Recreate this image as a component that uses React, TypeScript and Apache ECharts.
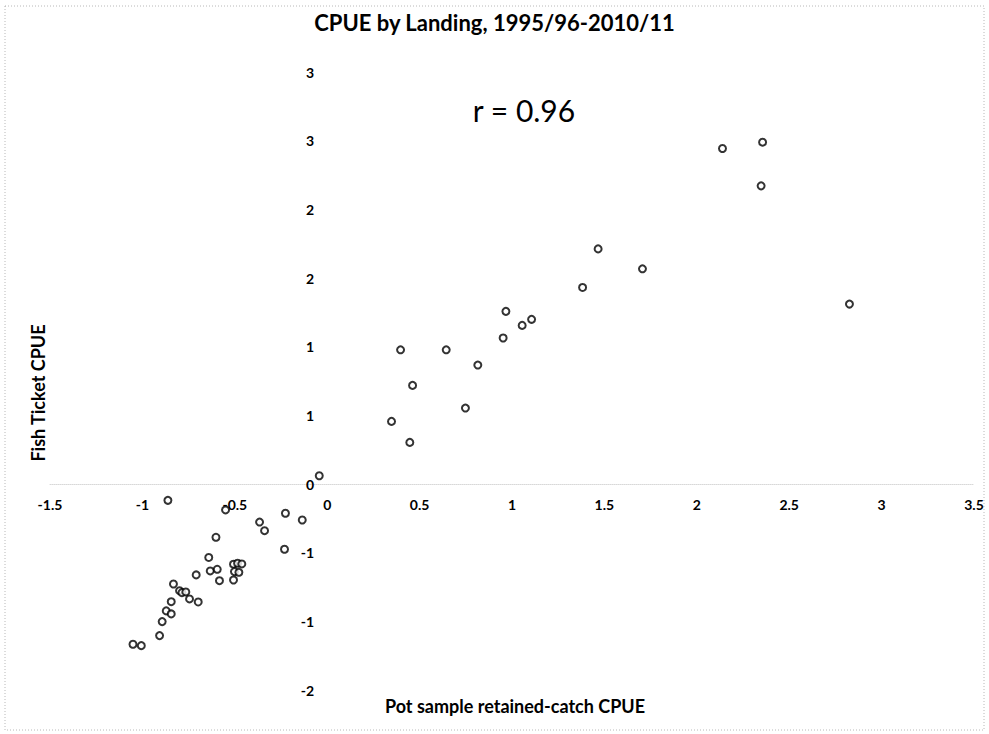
import React, { useEffect, useRef } from "react";
import * as echarts from "echarts";

// standardized CPUE per landing: pot sample (x) vs fish ticket (y)
const potSampleCpue = [
  -0.043, -0.862, -0.55, -0.226, -0.135, -0.366, -0.339, -0.602, -0.231, -0.641,
  -0.633, -0.595, -0.709, -0.583, -0.507, -0.485, -0.462, -0.502, -0.478, -0.507,
  -0.832, -0.799, -0.786, -0.765, -0.745, -0.698, -0.844, -0.871, -0.844, -0.893,
  -0.907, -1.051, -1.006,
  0.348, 0.447, 0.462, 0.397, 0.644, 0.748, 0.815, 0.952, 0.967, 1.055, 1.106,
  1.382, 1.466, 1.706, 2.139, 2.356, 2.348, 2.826,
];
const fishTicketCpue = [
  0.06, -0.119, -0.189, -0.213, -0.262, -0.277, -0.34, -0.388, -0.475, -0.535,
  -0.633, -0.621, -0.662, -0.704, -0.584, -0.577, -0.582, -0.638, -0.643, -0.699,
  -0.728, -0.777, -0.791, -0.786, -0.837, -0.859, -0.857, -0.924, -0.946, -1.002,
  -1.104, -1.167, -1.177,
  0.456, 0.303, 0.718, 0.977, 0.977, 0.553, 0.866, 1.063, 1.257, 1.155, 1.199,
  1.431, 1.712, 1.567, 2.443, 2.489, 2.171, 1.31,
];

// y ticks are shown rounded to whole numbers, as in the original
const yTicks = [-1.5, -1, -0.5, 0, 0.5, 1, 1.5, 2, 2.5, 3];
const yTickLabels = ["-2", "-1", "-1", "0", "1", "1", "2", "2", "3", "3"];

const FONT = "Lato, 'Open Sans', sans-serif";

// plot area in px
const GRID = { left: 50, right: 15, top: 72, bottom: 44 };
const W = 989;
const H = 734;
const X_MIN = -1.5, X_MAX = 3.5, Y_MIN = -1.5, Y_MAX = 3;

const App: React.FC = () => {
  const chartRef = useRef<HTMLDivElement>(null);

  useEffect(() => {
    if (!chartRef.current) return;
    document.body.style.margin = "0";
    const chart = echarts.init(chartRef.current, undefined, { renderer: "svg" });

    const points = potSampleCpue.map((x, i) => [x, fishTicketCpue[i]]);

    // axes cross at zero: shift them from the grid edges
    const plotW = W - GRID.left - GRID.right;
    const plotH = H - GRID.top - GRID.bottom;
    const yAxisShift = (-X_MIN / (X_MAX - X_MIN)) * plotW;
    const xAxisShift = (-Y_MIN / (Y_MAX - Y_MIN)) * plotH;

    const option: echarts.EChartsOption = {
      animation: false,
      backgroundColor: "#fff",
      title: {
        text: "CPUE by Landing, 1995/96-2010/11",
        left: "center",
        top: 6,
        textStyle: { fontFamily: FONT, fontSize: 22, fontWeight: "bold", color: "#000" },
      },
      grid: GRID,
      xAxis: {
        type: "value",
        min: X_MIN,
        max: X_MAX,
        interval: 0.5,
        offset: -xAxisShift,
        axisLine: { onZero: false, lineStyle: { color: "#d8d8d8", type: "dotted" } },
        axisTick: { show: false },
        splitLine: { show: false },
        axisLabel: {
          showMinLabel: true,
          showMaxLabel: true,
          margin: 13,
          color: "#000",
          fontFamily: FONT,
          fontSize: 14,
          fontWeight: "bold",
        },
      },
      yAxis: {
        type: "value",
        min: Y_MIN,
        max: Y_MAX,
        interval: 0.5,
        offset: -yAxisShift,
        axisLine: { show: false },
        axisTick: { show: false },
        splitLine: { show: false },
        axisLabel: {
          showMinLabel: true,
          showMaxLabel: true,
          margin: 13,
          color: "#000",
          fontFamily: FONT,
          fontSize: 14,
          fontWeight: "bold",
          formatter: (v: number) => {
            const i = yTicks.findIndex((t) => Math.abs(t - v) < 1e-6);
            return i >= 0 ? yTickLabels[i] : "";
          },
        },
      },
      graphic: [
        {
          type: "rect",
          shape: { x: 5, y: 6, width: 979, height: 724 },
          style: { fill: "none", stroke: "#b8b8b8", lineWidth: 1, lineDash: [1, 2] },
          silent: true,
        },
        {
          type: "text",
          x: 524,
          y: 110,
          style: {
            text: "r = 0.96",
            font: `30px ${FONT}`,
            fill: "#000",
            textAlign: "center",
            textVerticalAlign: "middle",
          },
        },
        {
          type: "text",
          x: 515,
          y: 706,
          style: {
            text: "Pot sample retained-catch CPUE",
            font: `bold 18px ${FONT}`,
            fill: "#000",
            textAlign: "center",
            textVerticalAlign: "middle",
          },
        },
        {
          type: "text",
          x: 38,
          y: 393,
          rotation: Math.PI / 2,
          style: {
            text: "Fish Ticket CPUE",
            font: `bold 18px ${FONT}`,
            fill: "#000",
            textAlign: "center",
            textVerticalAlign: "middle",
          },
        },
      ],
      series: [
        {
          type: "scatter",
          data: points,
          symbol: "circle",
          symbolSize: 7,
          itemStyle: { color: "#fff", borderColor: "#000", borderWidth: 2 },
          z: 5,
        },
      ],
    };

    chart.setOption(option);
    return () => {
      chart.dispose();
    };
  }, []);

  return <div ref={chartRef} style={{ width: `${W}px`, height: `${H}px` }} />;
};

export default App;
